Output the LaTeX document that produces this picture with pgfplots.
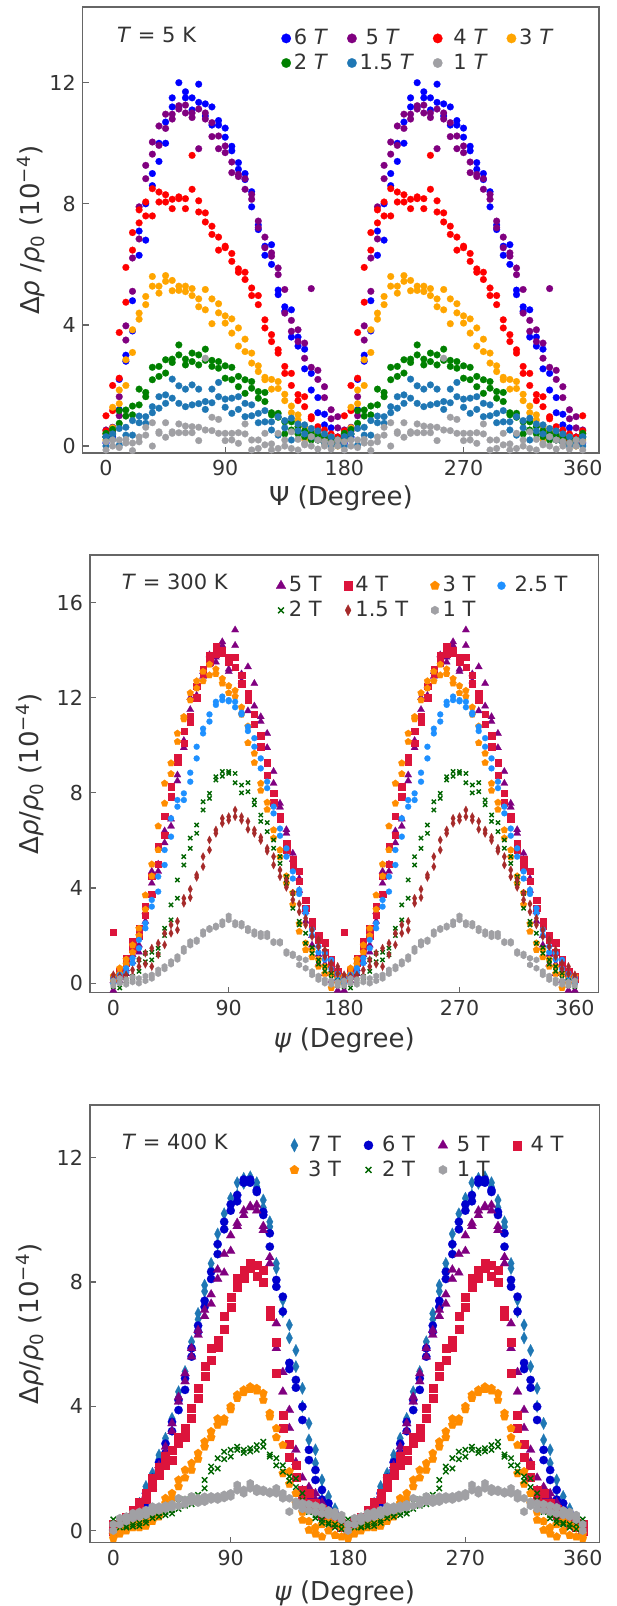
\documentclass[border=0pt]{standalone}
\usepackage{fontspec}
\setmainfont{DejaVu Sans}
\usepackage{pgfplots}
\usepackage{pgfplotstable}
\pgfplotsset{compat=1.18}
\usetikzlibrary{plotmarks}

\pgfdeclareplotmark{hexagon*}{%
  \pgfpathmoveto{\pgfqpointpolar{90}{\pgfplotmarksize}}%
  \pgfpathlineto{\pgfqpointpolar{150}{\pgfplotmarksize}}%
  \pgfpathlineto{\pgfqpointpolar{210}{\pgfplotmarksize}}%
  \pgfpathlineto{\pgfqpointpolar{270}{\pgfplotmarksize}}%
  \pgfpathlineto{\pgfqpointpolar{330}{\pgfplotmarksize}}%
  \pgfpathlineto{\pgfqpointpolar{30}{\pgfplotmarksize}}%
  \pgfpathclose
  \pgfusepathqfillstroke}

\definecolor{cblue}{HTML}{0000FF}
\definecolor{cpurple}{HTML}{800080}
\definecolor{cred}{HTML}{FF0000}
\definecolor{corange}{HTML}{FFA500}
\definecolor{cgreen}{HTML}{008000}
\definecolor{ctab}{HTML}{1F77B4}
\definecolor{cgray}{HTML}{A0A0A4}
\definecolor{ccrimson}{HTML}{DC143C}
\definecolor{cdorange}{HTML}{FF8C00}
\definecolor{cdodger}{HTML}{1E90FF}
\definecolor{cdgreen}{HTML}{006400}
\definecolor{cbrown}{HTML}{A52A2A}
\definecolor{cmblue}{HTML}{0000CD}
\definecolor{txt}{HTML}{333333}

% Panel 1: T = 5 K ; columns: 6T 5T 4T 3T 2T 1.5T 1T
\pgfplotstableread{
p a1 b1 a2 b2 a3 b3 a4 b4 a5 b5 a6 b6 a7 b7
0 0.3 0.1 0.53 0.4 1.0 0.5 0.4 0.2 0.42 0.3 0.31 0.0 0.14 -0.13
5 0.6 0.3 0.62 0.5 2.0 1.17 1.28 0.6 0.55 0.4 0.22 0.4 0.2 0.0
10 1.2 2.2 1.63 1.0 3.75 2.24 1.85 1.4 1.17 0.75 0.58 0.03 0.2 -0.05
15 3.0 2.8 3.97 3.5 5.9 4.75 2.85 2.0 1.19 0.99 0.62 0.36 0.22 0.1
20 4.8 3.8 6.21 5.11 7.05 6.47 3.84 3.09 1.32 1.03 0.84 0.36 0.1 -0.15
25 6.3 7.1 7.9 6.84 7.8 7.37 4.39 4.19 1.88 1.36 0.99 0.77 0.3 0.14
30 6.8 8.0 9.27 8.83 8.06 7.6 4.94 4.67 1.77 1.63 0.97 0.75 0.62 0.36
35 8.6 9.0 10.04 9.64 8.5 7.6 5.6 5.28 2.6 2.19 1.3 1.1 0.77 0.0
40 9.4 10.0 10.57 9.93 8.39 8.06 5.28 5.05 2.63 2.3 1.63 1.25 0.47 0.42
45 10.0 10.7 10.96 10.49 8.3 8.06 5.63 5.44 2.85 2.41 1.69 1.41 0.77 0.29
50 11.2 11.5 10.96 10.8 8.15 7.84 5.47 5.13 2.87 2.76 2.21 1.58 0.47 0.42
55 12.0 11.2 11.24 11.13 8.23 8.17 5.28 5.14 3.34 3.01 1.99 1.41 0.73 0.44
60 11.7 11.5 11.26 11.0 8.17 7.84 5.28 5.1 2.87 2.68 1.88 1.3 0.66 0.44
65 11.5 11.1 11.0 10.85 9.6 8.48 4.97 5.2 3.07 2.79 2.02 1.36 0.64 0.44
70 11.95 11.35 11.13 9.82 8.1 7.73 4.86 4.6 3.01 2.68 1.88 1.4 0.62 0.18
75 11.3 10.9 11.0 10.8 7.7 7.4 5.17 4.5 3.2 2.83 1.47 1.21 2.9 0.53
80 11.2 10.6 10.68 10.22 7.26 6.99 4.86 4.04 2.83 2.63 1.88 1.43 0.95 0.51
85 10.75 10.6 10.24 9.82 6.9 6.47 4.7 4.4 2.79 2.57 2.1 1.63 0.88 0.42
90 10.5 10.2 9.91 9.69 6.55 6.6 4.3 4.06 2.65 2.24 1.55 1.28 0.42 0.18
95 9.75 9.9 9.38 9.03 6.36 6.1 4.2 3.73 2.6 2.19 1.58 1.08 0.42 0.2
100 9.36 9.14 8.97 8.9 5.85 5.74 3.9 3.3 2.3 1.96 1.63 1.21 0.44 0.09
105 9.0 8.8 8.83 8.48 5.74 5.5 3.53 3.12 2.19 1.74 1.41 0.97 0.73 0.4
110 7.9 8.4 8.31 8.15 5.22 4.97 3.07 2.74 2.13 1.91 1.36 1.0 0.2 -0.13
115 7.15 7.3 7.43 7.21 4.97 4.67 2.65 2.46 1.58 1.8 1.08 0.77 0.2 -0.08
120 6.3 6.6 6.9 6.55 4.17 3.9 2.27 2.19 1.77 1.47 1.17 0.8 0.42 0.04
125 6.0 6.65 6.38 6.27 3.68 3.45 2.2 1.88 1.1 1.03 0.8 0.53 0.07 -0.13
130 5.15 5.0 5.88 5.66 3.18 3.07 2.13 1.9 1.08 0.95 0.97 0.36 0.42 -0.08
135 4.45 4.6 5.17 4.39 2.63 2.4 1.71 1.5 0.4 0.8 0.84 0.6 0.2 0.0
140 3.6 4.5 4.15 3.79 2.4 2.0 1.32 1.1 0.8 0.53 0.92 0.2 0.47 -0.08
145 3.3 3.6 3.84 3.45 1.7 1.5 1.03 0.86 0.64 0.4 0.73 0.5 0.22 -0.13
150 3.2 2.55 3.4 2.9 1.63 1.3 0.64 0.22 0.31 0.5 0.7 0.4 0.09 0.04
155 2.4 1.85 5.2 2.6 0.97 0.9 0.5 0.3 0.42 0.2 0.58 0.3 0.31 0.0
160 1.6 1.1 2.5 2.2 0.64 0.5 0.4 0.2 0.35 0.2 0.5 0.2 0.2 -0.1
165 1.05 0.7 1.96 1.6 0.53 0.3 0.3 0.1 0.3 0.15 0.4 0.1 0.15 0.0
170 0.6 0.3 1.2 0.9 0.4 0.2 0.3 0.05 0.25 0.1 0.3 0.0 0.1 -0.1
175 0.3 0.1 0.97 0.6 0.3 0.1 0.2 0.0 0.2 0.05 0.2 0.05 0.2 0.0
180 0.3 0.1 0.53 0.4 1.0 0.5 0.4 0.2 0.42 0.3 0.31 0.0 0.14 -0.13
185 0.6 0.3 0.62 0.5 2.0 1.17 1.28 0.6 0.55 0.4 0.22 0.4 0.2 0.0
190 1.2 2.2 1.63 1.0 3.75 2.24 1.85 1.4 1.17 0.75 0.58 0.03 0.2 -0.05
195 3.0 2.8 3.97 3.5 5.9 4.75 2.85 2.0 1.19 0.99 0.62 0.36 0.22 0.1
200 4.8 3.8 6.21 5.11 7.05 6.47 3.84 3.09 1.32 1.03 0.84 0.36 0.1 -0.15
205 6.3 7.1 7.9 6.84 7.8 7.37 4.39 4.19 1.88 1.36 0.99 0.77 0.3 0.14
210 6.8 8.0 9.27 8.83 8.06 7.6 4.94 4.67 1.77 1.63 0.97 0.75 0.62 0.36
215 8.6 9.0 10.04 9.64 8.5 7.6 5.6 5.28 2.6 2.19 1.3 1.1 0.77 0.0
220 9.4 10.0 10.57 9.93 8.39 8.06 5.28 5.05 2.63 2.3 1.63 1.25 0.47 0.42
225 10.0 10.7 10.96 10.49 8.3 8.06 5.63 5.44 2.85 2.41 1.69 1.41 0.77 0.29
230 11.2 11.5 10.96 10.8 8.15 7.84 5.47 5.13 2.87 2.76 2.21 1.58 0.47 0.42
235 12.0 11.2 11.24 11.13 8.23 8.17 5.28 5.14 3.34 3.01 1.99 1.41 0.73 0.44
240 11.7 11.5 11.26 11.0 8.17 7.84 5.28 5.1 2.87 2.68 1.88 1.3 0.66 0.44
245 11.5 11.1 11.0 10.85 9.6 8.48 4.97 5.2 3.07 2.79 2.02 1.36 0.64 0.44
250 11.95 11.35 11.13 9.82 8.1 7.73 4.86 4.6 3.01 2.68 1.88 1.4 0.62 0.18
255 11.3 10.9 11.0 10.8 7.7 7.4 5.17 4.5 3.2 2.83 1.47 1.21 2.9 0.53
260 11.2 10.6 10.68 10.22 7.26 6.99 4.86 4.04 2.83 2.63 1.88 1.43 0.95 0.51
265 10.75 10.6 10.24 9.82 6.9 6.47 4.7 4.4 2.79 2.57 2.1 1.63 0.88 0.42
270 10.5 10.2 9.91 9.69 6.55 6.6 4.3 4.06 2.65 2.24 1.55 1.28 0.42 0.18
275 9.75 9.9 9.38 9.03 6.36 6.1 4.2 3.73 2.6 2.19 1.58 1.08 0.42 0.2
280 9.36 9.14 8.97 8.9 5.85 5.74 3.9 3.3 2.3 1.96 1.63 1.21 0.44 0.09
285 9.0 8.8 8.83 8.48 5.74 5.5 3.53 3.12 2.19 1.74 1.41 0.97 0.73 0.4
290 7.9 8.4 8.31 8.15 5.22 4.97 3.07 2.74 2.13 1.91 1.36 1.0 0.2 -0.13
295 7.15 7.3 7.43 7.21 4.97 4.67 2.65 2.46 1.58 1.8 1.08 0.77 0.2 -0.08
300 6.3 6.6 6.9 6.55 4.17 3.9 2.27 2.19 1.77 1.47 1.17 0.8 0.42 0.04
305 6.0 6.65 6.38 6.27 3.68 3.45 2.2 1.88 1.1 1.03 0.8 0.53 0.07 -0.13
310 5.15 5.0 5.88 5.66 3.18 3.07 2.13 1.9 1.08 0.95 0.97 0.36 0.42 -0.08
315 4.45 4.6 5.17 4.39 2.63 2.4 1.71 1.5 0.4 0.8 0.84 0.6 0.2 0.0
320 3.6 4.5 4.15 3.79 2.4 2.0 1.32 1.1 0.8 0.53 0.92 0.2 0.47 -0.08
325 3.3 3.6 3.84 3.45 1.7 1.5 1.03 0.86 0.64 0.4 0.73 0.5 0.22 -0.13
330 3.2 2.55 3.4 2.9 1.63 1.3 0.64 0.22 0.31 0.5 0.7 0.4 0.09 0.04
335 2.4 1.85 5.2 2.6 0.97 0.9 0.5 0.3 0.42 0.2 0.58 0.3 0.31 0.0
340 1.6 1.1 2.5 2.2 0.64 0.5 0.4 0.2 0.35 0.2 0.5 0.2 0.2 -0.1
345 1.05 0.7 1.96 1.6 0.53 0.3 0.3 0.1 0.3 0.15 0.4 0.1 0.15 0.0
350 0.6 0.3 1.2 0.9 0.4 0.2 0.3 0.05 0.25 0.1 0.3 0.0 0.1 -0.1
355 0.3 0.1 0.97 0.6 0.3 0.1 0.2 0.0 0.2 0.05 0.2 0.05 0.2 0.0
360 0.3 0.1 0.53 0.4 1.0 0.5 0.4 0.2 0.42 0.3 0.31 0.0 0.14 -0.13
}\tA

% Panel 2: T = 300 K ; columns: 5T 4T 3T 2.5T 2T 1.5T 1T
\pgfplotstableread{
p a1 b1 a2 b2 a3 b3 a4 b4 a5 b5 a6 b6 a7 b7
0 0.1 -0.3 2.14 0.2 0.3 0.1 0.2 0.0 0.0 -0.14 0.35 0.2 0.1 -0.1
5 0.3 0.1 0.5 0.3 0.63 0.4 0.35 0.2 -0.2 0.1 0.3 0.1 0.2 0.0
10 0.6 0.4 1.05 0.84 1.0 0.8 0.63 0.45 0.1 0.28 0.35 0.1 0.15 -0.05
15 1.2 0.9 1.75 1.43 1.6 1.3 1.05 0.84 0.28 0.1 0.56 0.3 0.25 0.05
20 1.6 1.3 2.3 2.0 2.3 2.0 1.82 1.47 0.98 0.5 0.98 0.7 0.2 0.0
25 3.0 2.6 3.25 2.87 3.7 3.1 2.52 2.31 1.26 0.9 1.26 0.8 0.3 0.1
30 4.7 4.2 4.5 3.75 5.0 4.5 3.5 3.22 0.98 1.3 1.47 0.7 0.35 0.2
35 5.0 4.7 5.75 5.0 6.6 5.6 4.48 3.85 1.47 1.2 1.68 1.2 0.56 0.4
40 6.4 5.9 7.03 6.23 8.4 7.56 5.6 4.97 2.31 2.0 2.1 1.61 0.7 0.6
45 6.9 6.6 8.26 7.84 9.25 8.8 6.93 6.16 3.29 2.66 2.45 2.1 0.91 0.8
50 8.75 8.5 9.5 9.3 10.5 10.15 7.7 7.42 4.34 3.57 2.6 2.24 1.12 1.0
55 10.2 9.9 10.6 10.1 11.2 11.1 7.98 7.7 5.32 4.97 3.57 3.36 1.47 1.33
60 12.0 11.5 11.2 11.0 12.2 11.9 8.85 8.47 6.1 5.67 3.95 3.6 1.75 1.6
65 12.5 12.1 12.5 12.0 12.7 12.4 9.94 9.45 6.65 6.3 4.55 4.45 1.82 1.75
70 13.1 12.9 13.2 13.0 13.1 12.7 10.7 10.5 7.63 7.28 5.32 4.9 2.17 2.05
75 13.8 13.4 13.8 13.5 13.4 12.95 11.3 11.0 7.98 7.77 6.02 5.6 2.31 2.25
80 13.7 13.5 14.15 13.85 13.2 13.0 11.83 11.7 8.68 8.54 6.44 6.3 2.41 2.35
85 14.35 14.2 14.0 13.9 12.8 12.6 12.05 11.9 8.9 8.7 6.93 6.72 2.59 2.45
90 13.2 13.1 13.7 13.5 12.5 12.2 11.9 11.85 8.9 8.82 7.0 6.85 2.83 2.66
95 14.85 14.2 13.7 13.3 12.3 12.05 11.83 11.6 8.82 8.43 7.28 7.0 2.55 2.45
100 13.0 12.7 12.95 12.6 11.6 11.3 11.37 11.3 8.33 8.0 7.0 6.85 2.52 2.4
105 13.3 11.45 12.2 11.9 10.8 10.1 10.78 10.6 8.43 8.05 6.8 6.47 2.31 2.2
110 12.6 11.65 11.3 10.9 9.66 9.27 10.3 9.94 7.7 7.5 6.44 6.3 2.17 2.05
115 11.2 11.0 10.4 9.95 8.1 8.4 9.45 9.03 7.07 6.8 6.13 6.0 2.1 1.95
120 10.5 9.9 9.27 8.75 7.6 7.3 8.47 8.2 6.75 6.37 5.67 5.55 2.1 1.95
125 8.9 8.4 8.0 7.6 6.44 6.1 7.42 7.14 6.02 5.67 5.32 4.97 1.75 1.7
130 7.56 7.4 7.0 6.9 5.6 5.3 6.5 6.2 5.32 5.04 4.76 4.48 1.75 1.68
135 6.45 6.3 5.9 5.6 4.5 4.2 5.67 5.32 4.48 4.2 4.34 4.03 1.33 1.25
140 5.46 5.2 5.2 4.9 3.8 3.3 4.7 4.4 3.78 3.15 3.78 3.5 1.23 1.15
145 4.4 3.9 4.7 4.3 2.17 2.5 3.92 3.75 2.6 2.45 3.33 3.0 1.05 0.77
150 3.0 2.6 3.5 3.15 1.68 1.4 3.15 2.95 1.68 2.1 2.73 2.45 0.98 0.63
155 2.0 1.6 2.6 2.4 1.4 1.1 2.24 2.0 1.26 1.5 2.24 1.96 0.49 0.35
160 1.2 0.8 2.0 1.8 1.0 0.7 1.54 1.3 0.98 0.8 1.82 1.54 0.3 0.15
165 0.8 0.4 1.7 1.3 0.7 0.4 1.26 1.0 0.7 0.5 1.4 1.12 0.14 0.0
170 0.5 0.1 1.0 0.8 0.4 -0.2 0.98 0.6 0.42 0.2 0.84 0.6 0.1 -0.05
175 0.2 -0.3 0.5 0.4 0.2 0.0 0.14 0.4 0.1 -0.1 0.7 0.4 0.05 -0.1
180 0.1 -0.3 2.14 0.2 0.3 0.1 0.2 0.0 0.0 -0.14 0.35 0.2 0.1 -0.1
185 0.3 0.1 0.5 0.3 0.63 0.4 0.35 0.2 -0.2 0.1 0.3 0.1 0.2 0.0
190 0.6 0.4 1.05 0.84 1.0 0.8 0.63 0.45 0.1 0.28 0.35 0.1 0.15 -0.05
195 1.2 0.9 1.75 1.43 1.6 1.3 1.05 0.84 0.28 0.1 0.56 0.3 0.25 0.05
200 1.6 1.3 2.3 2.0 2.3 2.0 1.82 1.47 0.98 0.5 0.98 0.7 0.2 0.0
205 3.0 2.6 3.25 2.87 3.7 3.1 2.52 2.31 1.26 0.9 1.26 0.8 0.3 0.1
210 4.7 4.2 4.5 3.75 5.0 4.5 3.5 3.22 0.98 1.3 1.47 0.7 0.35 0.2
215 5.0 4.7 5.75 5.0 6.6 5.6 4.48 3.85 1.47 1.2 1.68 1.2 0.56 0.4
220 6.4 5.9 7.03 6.23 8.4 7.56 5.6 4.97 2.31 2.0 2.1 1.61 0.7 0.6
225 6.9 6.6 8.26 7.84 9.25 8.8 6.93 6.16 3.29 2.66 2.45 2.1 0.91 0.8
230 8.75 8.5 9.5 9.3 10.5 10.15 7.7 7.42 4.34 3.57 2.6 2.24 1.12 1.0
235 10.2 9.9 10.6 10.1 11.2 11.1 7.98 7.7 5.32 4.97 3.57 3.36 1.47 1.33
240 12.0 11.5 11.2 11.0 12.2 11.9 8.85 8.47 6.1 5.67 3.95 3.6 1.75 1.6
245 12.5 12.1 12.5 12.0 12.7 12.4 9.94 9.45 6.65 6.3 4.55 4.45 1.82 1.75
250 13.1 12.9 13.2 13.0 13.1 12.7 10.7 10.5 7.63 7.28 5.32 4.9 2.17 2.05
255 13.8 13.4 13.8 13.5 13.4 12.95 11.3 11.0 7.98 7.77 6.02 5.6 2.31 2.25
260 13.7 13.5 14.15 13.85 13.2 13.0 11.83 11.7 8.68 8.54 6.44 6.3 2.41 2.35
265 14.35 14.2 14.0 13.9 12.8 12.6 12.05 11.9 8.9 8.7 6.93 6.72 2.59 2.45
270 13.2 13.1 13.7 13.5 12.5 12.2 11.9 11.85 8.9 8.82 7.0 6.85 2.83 2.66
275 14.85 14.2 13.7 13.3 12.3 12.05 11.83 11.6 8.82 8.43 7.28 7.0 2.55 2.45
280 13.0 12.7 12.95 12.6 11.6 11.3 11.37 11.3 8.33 8.0 7.0 6.85 2.52 2.4
285 13.3 11.45 12.2 11.9 10.8 10.1 10.78 10.6 8.43 8.05 6.8 6.47 2.31 2.2
290 12.6 11.65 11.3 10.9 9.66 9.27 10.3 9.94 7.7 7.5 6.44 6.3 2.17 2.05
295 11.2 11.0 10.4 9.95 8.1 8.4 9.45 9.03 7.07 6.8 6.13 6.0 2.1 1.95
300 10.5 9.9 9.27 8.75 7.6 7.3 8.47 8.2 6.75 6.37 5.67 5.55 2.1 1.95
305 8.9 8.4 8.0 7.6 6.44 6.1 7.42 7.14 6.02 5.67 5.32 4.97 1.75 1.7
310 7.56 7.4 7.0 6.9 5.6 5.3 6.5 6.2 5.32 5.04 4.76 4.48 1.75 1.68
315 6.45 6.3 5.9 5.6 4.5 4.2 5.67 5.32 4.48 4.2 4.34 4.03 1.33 1.25
320 5.46 5.2 5.2 4.9 3.8 3.3 4.7 4.4 3.78 3.15 3.78 3.5 1.23 1.15
325 4.4 3.9 4.7 4.3 2.17 2.5 3.92 3.75 2.6 2.45 3.33 3.0 1.05 0.77
330 3.0 2.6 3.5 3.15 1.68 1.4 3.15 2.95 1.68 2.1 2.73 2.45 0.98 0.63
335 2.0 1.6 2.6 2.4 1.4 1.1 2.24 2.0 1.26 1.5 2.24 1.96 0.49 0.35
340 1.2 0.8 2.0 1.8 1.0 0.7 1.54 1.3 0.98 0.8 1.82 1.54 0.3 0.15
345 0.8 0.4 1.7 1.3 0.7 0.4 1.26 1.0 0.7 0.5 1.4 1.12 0.14 0.0
350 0.5 0.1 1.0 0.8 0.4 -0.2 0.98 0.6 0.42 0.2 0.84 0.6 0.1 -0.05
355 0.2 -0.3 0.5 0.4 0.2 0.0 0.14 0.4 0.1 -0.1 0.7 0.4 0.05 -0.1
360 0.1 -0.3 0.3 0.2 0.3 0.1 0.2 0.0 0.0 -0.14 0.35 0.2 0.1 -0.1
}\tB

% Panel 3: T = 400 K ; columns: 7T 6T 5T 4T 3T 2T 1T
\pgfplotstableread{
p a1 b1 a2 b2 a3 b3 a4 b4 a5 b5 a6 b6 a7 b7
0 0.1 0.02 0.05 -0.1 0.1 0.0 0.2 0.0 -0.25 -0.1 0.36 0.2 0.2 0.0
5 0.2 0.13 0.1 0.2 0.15 0.05 0.3 0.15 -0.1 0.0 0.2 0.1 0.4 0.2
10 0.35 0.24 0.2 0.3 0.3 0.2 0.45 0.3 0.0 0.1 0.15 0.1 0.45 0.3
15 0.5 0.45 0.45 0.35 0.5 0.4 0.66 0.5 0.1 0.2 0.13 0.2 0.56 0.4
20 0.88 0.8 0.75 0.6 0.8 0.7 0.93 0.8 0.24 0.1 0.24 0.15 0.6 0.45
25 1.42 1.3 1.2 0.88 1.15 1.0 1.2 1.0 0.3 0.15 0.34 0.25 0.66 0.5
30 1.84 1.58 1.7 1.42 1.55 1.4 1.68 1.4 0.45 0.3 0.5 0.4 0.77 0.6
35 2.43 2.3 2.2 1.95 2.1 1.9 2.06 1.8 0.6 0.45 0.56 0.45 0.77 0.65
40 2.97 2.8 2.8 2.5 2.7 2.5 2.4 2.1 1.04 0.88 0.6 0.5 0.8 0.7
45 3.61 3.5 3.5 3.2 3.45 3.2 2.6 2.27 1.2 1.0 0.66 0.55 0.85 0.75
50 4.47 4.3 4.2 3.88 4.3 4.15 3.02 2.81 1.63 1.42 0.9 0.7 1.04 0.8
55 5.12 5.0 4.9 4.53 5.06 4.8 3.29 3.02 1.95 1.7 1.0 0.8 0.99 0.85
60 6.08 5.87 5.87 5.6 5.87 5.6 3.94 3.61 2.17 1.95 1.1 0.85 1.1 0.93
65 6.99 6.8 6.6 6.4 6.45 6.3 4.58 4.27 2.49 2.3 1.15 1.0 1.04 0.9
70 7.9 7.7 7.4 7.2 7.1 6.9 5.28 4.96 2.86 2.7 1.63 1.36 1.09 0.93
75 8.6 8.4 8.33 8.1 7.6 7.3 5.87 5.49 3.19 3.0 2.06 1.9 1.1 1.0
80 9.55 9.22 9.22 8.9 8.4 8.1 6.13 5.9 3.6 3.4 2.33 2.0 1.1 1.0
85 10.2 9.94 9.94 9.7 8.9 8.3 6.89 6.5 3.6 3.5 2.54 2.3 1.15 1.05
90 10.7 10.5 10.5 10.3 9.5 9.0 7.53 7.2 4.0 3.9 2.38 2.6 1.2 1.1
95 11.2 10.8 10.8 10.6 9.9 9.8 8.12 7.85 4.37 4.26 2.7 2.6 1.47 1.3
100 11.34 11.18 11.3 11.2 10.3 10.15 8.39 8.12 4.53 4.45 2.6 2.5 1.31 1.2
105 11.39 11.3 11.3 11.2 10.45 10.4 8.6 8.44 4.63 4.55 2.65 2.55 1.52 1.36
110 11.2 11.07 10.96 10.9 10.48 10.3 8.55 8.2 4.58 4.5 2.6 2.75 1.36 1.25
115 10.64 10.4 10.26 10.16 9.8 9.67 8.4 8.0 4.42 4.2 2.86 2.7 1.31 1.25
120 9.94 9.78 9.57 9.14 8.8 8.6 7.1 6.9 3.78 3.67 2.38 2.45 1.25 1.2
125 8.44 8.6 7.85 8.07 6.67 5.87 6.08 5.06 3.29 3.0 2.33 2.1 1.36 1.2
130 7.42 7.05 7.53 7.05 5.1 4.47 3.72 3.3 2.75 1.84 2.1 1.9 1.2 1.04
135 6.62 6.2 5.4 5.2 3.88 3.3 2.8 2.36 1.9 1.5 1.74 1.6 1.04 0.61
140 5.28 5.8 4.85 4.6 2.6 2.2 2.1 1.73 0.88 1.2 1.68 1.4 0.93 0.8
145 4.0 4.58 3.56 3.99 1.7 1.3 1.31 1.1 0.34 0.6 1.2 0.98 0.88 0.7
150 3.45 2.92 2.6 2.27 1.4 1.1 1.2 0.9 0.02 0.3 0.77 0.6 0.85 0.65
155 2.17 2.6 1.95 1.63 1.2 1.0 0.9 0.7 0.1 -0.1 0.5 0.4 0.8 0.6
160 1.63 1.31 1.31 1.0 0.9 0.8 0.7 0.5 0.2 -0.2 0.35 0.25 0.75 0.55
165 0.88 1.1 0.88 0.7 0.6 0.5 0.5 0.35 0.3 0.0 0.25 0.2 0.65 0.5
170 0.56 0.7 0.56 0.45 0.4 0.3 0.35 0.2 0.2 -0.15 0.2 0.1 0.6 0.45
175 0.4 0.3 0.3 0.2 0.3 0.2 0.25 0.1 0.1 -0.2 0.2 0.05 0.5 0.35
180 0.1 0.02 0.05 -0.1 0.1 0.0 0.2 0.0 -0.25 -0.1 0.36 0.2 0.2 0.0
185 0.2 0.13 0.1 0.2 0.15 0.05 0.3 0.15 -0.1 0.0 0.2 0.1 0.4 0.2
190 0.35 0.24 0.2 0.3 0.3 0.2 0.45 0.3 0.0 0.1 0.15 0.1 0.45 0.3
195 0.5 0.45 0.45 0.35 0.5 0.4 0.66 0.5 0.1 0.2 0.13 0.2 0.56 0.4
200 0.88 0.8 0.75 0.6 0.8 0.7 0.93 0.8 0.24 0.1 0.24 0.15 0.6 0.45
205 1.42 1.3 1.2 0.88 1.15 1.0 1.2 1.0 0.3 0.15 0.34 0.25 0.66 0.5
210 1.84 1.58 1.7 1.42 1.55 1.4 1.68 1.4 0.45 0.3 0.5 0.4 0.77 0.6
215 2.43 2.3 2.2 1.95 2.1 1.9 2.06 1.8 0.6 0.45 0.56 0.45 0.77 0.65
220 2.97 2.8 2.8 2.5 2.7 2.5 2.4 2.1 1.04 0.88 0.6 0.5 0.8 0.7
225 3.61 3.5 3.5 3.2 3.45 3.2 2.6 2.27 1.2 1.0 0.66 0.55 0.85 0.75
230 4.47 4.3 4.2 3.88 4.3 4.15 3.02 2.81 1.63 1.42 0.9 0.7 1.04 0.8
235 5.12 5.0 4.9 4.53 5.06 4.8 3.29 3.02 1.95 1.7 1.0 0.8 0.99 0.85
240 6.08 5.87 5.87 5.6 5.87 5.6 3.94 3.61 2.17 1.95 1.1 0.85 1.1 0.93
245 6.99 6.8 6.6 6.4 6.45 6.3 4.58 4.27 2.49 2.3 1.15 1.0 1.04 0.9
250 7.9 7.7 7.4 7.2 7.1 6.9 5.28 4.96 2.86 2.7 1.63 1.36 1.09 0.93
255 8.6 8.4 8.33 8.1 7.6 7.3 5.87 5.49 3.19 3.0 2.06 1.9 1.1 1.0
260 9.55 9.22 9.22 8.9 8.4 8.1 6.13 5.9 3.6 3.4 2.33 2.0 1.1 1.0
265 10.2 9.94 9.94 9.7 8.9 8.3 6.89 6.5 3.6 3.5 2.54 2.3 1.15 1.05
270 10.7 10.5 10.5 10.3 9.5 9.0 7.53 7.2 4.0 3.9 2.38 2.6 1.2 1.1
275 11.2 10.8 10.8 10.6 9.9 9.8 8.12 7.85 4.37 4.26 2.7 2.6 1.47 1.3
280 11.34 11.18 11.3 11.2 10.3 10.15 8.39 8.12 4.53 4.45 2.6 2.5 1.31 1.2
285 11.39 11.3 11.3 11.2 10.45 10.4 8.6 8.44 4.63 4.55 2.65 2.55 1.52 1.36
290 11.2 11.07 10.96 10.9 10.48 10.3 8.55 8.2 4.58 4.5 2.6 2.75 1.36 1.25
295 10.64 10.4 10.26 10.16 9.8 9.67 8.4 8.0 4.42 4.2 2.86 2.7 1.31 1.25
300 9.94 9.78 9.57 9.14 8.8 8.6 7.1 6.9 3.78 3.67 2.38 2.45 1.25 1.2
305 8.44 8.6 7.85 8.07 6.67 5.87 6.08 5.06 3.29 3.0 2.33 2.1 1.36 1.2
310 7.42 7.05 7.53 7.05 5.1 4.47 3.72 3.3 2.75 1.84 2.1 1.9 1.2 1.04
315 6.62 6.2 5.4 5.2 3.88 3.3 2.8 2.36 1.9 1.5 1.74 1.6 1.04 0.61
320 5.28 5.8 4.85 4.6 2.6 2.2 2.1 1.73 0.88 1.2 1.68 1.4 0.93 0.8
325 4.0 4.58 3.56 3.99 1.7 1.3 1.31 1.1 0.34 0.6 1.2 0.98 0.88 0.7
330 3.45 2.92 2.6 2.27 1.4 1.1 1.2 0.9 0.02 0.3 0.77 0.6 0.85 0.65
335 2.17 2.6 1.95 1.63 1.2 1.0 0.9 0.7 0.1 -0.1 0.5 0.4 0.8 0.6
340 1.63 1.31 1.31 1.0 0.9 0.8 0.7 0.5 0.2 -0.2 0.35 0.25 0.75 0.55
345 0.88 1.1 0.88 0.7 0.6 0.5 0.5 0.35 0.3 0.0 0.25 0.2 0.65 0.5
350 0.56 0.7 0.56 0.45 0.4 0.3 0.35 0.2 0.2 -0.15 0.2 0.1 0.6 0.45
355 0.4 0.3 0.3 0.2 0.3 0.2 0.25 0.1 0.1 -0.2 0.2 0.05 0.5 0.35
360 0.1 0.02 0.05 -0.1 0.1 0.0 0.2 0.0 -0.25 -0.1 0.36 0.2 0.2 0.0
}\tC

\newcommand{\ser}[4]{%
  \addplot[#3] table[x=p,y=a#2]{#1};\addlegendentry{#4}
  \addplot[#3,forget plot] table[x=p,y=b#2]{#1};}

\pgfplotsset{
  limg/.style={legend image code/.code={\draw[mark repeat=2,mark phase=2,##1,/tikz/every mark/.append style={scale=#1}] plot coordinates {(0pt,0pt)(4pt,0pt)(8pt,0pt)};}},
  panel/.style={
    scale only axis,
    anchor=north west,
    axis line style={draw=black!60, line width=0.6pt},
    tick align=inside,
    xtick pos=left, ytick pos=left,
    major tick length=3pt,
    every tick/.style={black!60, line width=0.6pt},
    tick label style={font=\fontsize{10.3}{12}\selectfont, text=txt},
    label style={font=\fontsize{13}{15}\selectfont, text=txt},
    /pgf/number format/assume math mode=true,
    xtick={0,90,180,270,360},
    legend columns=4,
    legend cell align=left,
    legend style={draw=none, fill=none, font=\fontsize{10.5}{12}\selectfont, text=txt,
      nodes={inner sep=1.5pt}},
    every axis plot/.append style={only marks},
  }
}

\begin{document}
\begin{tikzpicture}
\path[use as bounding box] (0pt,0pt) rectangle (308pt,-803pt);

% ---------------- Panel 1 ----------------
\begin{axis}[panel, limg=1.4,
  at={(41.35pt,-3.5pt)}, width=258.15pt, height=223pt,
  xmin=-17.6, xmax=372.3, ymin=-0.23, ymax=14.5,
  ytick={0,4,8,12},
  xlabel={Ψ (Degree)},
  ylabel={Δ\textit{ρ} /\textit{ρ}\textsubscript{0} (10\textsuperscript{−4})},
  xlabel style={at={(axis description cs:0.5,-0.117)}, anchor=base},
  ylabel style={at={(axis description cs:-0.100,0.5)}, anchor=center},
  legend style={at={(axis description cs:0.930,0.967)}, anchor=north east,
    /tikz/every even column/.append style={column sep=8pt}},
]
\ser{\tA}{1}{mark=*, mark size=1.7pt, color=cblue, mark options={line width=0.1pt}}{6 \textit{T}}
\ser{\tA}{2}{mark=*, mark size=1.7pt, color=cpurple, mark options={line width=0.1pt}}{\hspace{3pt}5 \textit{T}}
\ser{\tA}{3}{mark=*, mark size=1.7pt, color=cred, mark options={line width=0.1pt}}{\hspace{4pt}4 \textit{T}}
\ser{\tA}{4}{mark=*, mark size=1.7pt, color=corange, mark options={line width=0.1pt}}{3 \textit{T}}
\ser{\tA}{5}{mark=*, mark size=1.7pt, color=cgreen, mark options={line width=0.1pt}}{2 \textit{T}}
\ser{\tA}{6}{mark=*, mark size=1.7pt, color=ctab, mark options={line width=0.1pt}}{1.5 \textit{T}}
\ser{\tA}{7}{mark=*, mark size=1.7pt, color=cgray, mark options={line width=0.1pt}}{\hspace{4pt}1 \textit{T}}
\node[anchor=west, font=\fontsize{10.5}{12}\selectfont, text=txt] at (axis description cs:0.053,0.937) {\textit{T} = 5 K};
\end{axis}

% ---------------- Panel 2 ----------------
\begin{axis}[panel, limg=1.35,
  at={(45pt,-277.5pt)}, width=254.35pt, height=218.85pt,
  xmin=-18.2, xmax=378.6, ymin=-0.4, ymax=18.0,
  ytick={0,4,8,12,16},
  xlabel={\textit{ψ} (Degree)},
  ylabel={Δ\textit{ρ}/\textit{ρ}\textsubscript{0} (10\textsuperscript{−4})},
  xlabel style={at={(axis description cs:0.5,-0.126)}, anchor=base},
  ylabel style={at={(axis description cs:-0.118,0.5)}, anchor=center},
  legend style={at={(axis description cs:0.957,0.968)}, anchor=north east,
    /tikz/every even column/.append style={column sep=9.5pt}},
]
\ser{\tB}{1}{mark=triangle*, mark size=2.1pt, color=cpurple, mark options={line width=0.1pt}}{5 T}
\ser{\tB}{2}{mark=square*, mark size=1.6pt, color=ccrimson, mark options={line width=0.1pt}}{4 T}
\ser{\tB}{3}{mark=pentagon*, mark size=1.8pt, color=cdorange, mark options={line width=0.1pt}}{3 T}
\ser{\tB}{4}{mark=*, mark size=1.5pt, color=cdodger, mark options={line width=0.1pt}}{\hspace{3pt}2.5 T}
\ser{\tB}{5}{mark=x, mark size=1.5pt, color=cdgreen, mark options={line width=0.7pt}}{2 T}
\ser{\tB}{6}{mark=diamond*, mark size=2.1pt, color=cbrown, mark options={line width=0.1pt, xscale=0.7}}{1.5 T}
\ser{\tB}{7}{mark=hexagon*, mark size=1.6pt, color=cgray, mark options={line width=0.1pt}}{1 T}
\node[anchor=west, font=\fontsize{10.5}{12}\selectfont, text=txt] at (axis description cs:0.049,0.938) {\textit{T} = 300 K};
\end{axis}

% ---------------- Panel 3 ----------------
\begin{axis}[panel, limg=1.1,
  at={(45pt,-552.5pt)}, width=254.65pt, height=218.85pt,
  xmin=-17.9, xmax=372.7, ymin=-0.39, ymax=13.7,
  ytick={0,4,8,12},
  xlabel={\textit{ψ} (Degree)},
  ylabel={Δ\textit{ρ}/\textit{ρ}\textsubscript{0} (10\textsuperscript{−4})},
  xlabel style={at={(axis description cs:0.5,-0.131)}, anchor=base},
  ylabel style={at={(axis description cs:-0.118,0.5)}, anchor=center},
  legend style={at={(axis description cs:0.948,0.946)}, anchor=north east,
    /tikz/every even column/.append style={column sep=10pt}},
]
\ser{\tC}{1}{mark=diamond*, mark size=3.1pt, color=ctab, mark options={line width=0.1pt, xscale=0.7}}{\hspace{3pt}7 T}
\ser{\tC}{2}{mark=*, mark size=2.1pt, color=cmblue, mark options={line width=0.1pt}}{\hspace{3pt}6 T}
\ser{\tC}{3}{mark=triangle*, mark size=2.6pt, color=cpurple, mark options={line width=0.1pt}}{\hspace{3pt}5 T}
\ser{\tC}{4}{mark=square*, mark size=2.0pt, color=ccrimson, mark options={line width=0.1pt}}{\hspace{3pt}4 T}
\ser{\tC}{5}{mark=pentagon*, mark size=2.2pt, color=cdorange, mark options={line width=0.1pt}}{\hspace{3pt}3 T}
\ser{\tC}{6}{mark=x, mark size=1.9pt, color=cdgreen, mark options={line width=0.7pt}}{\hspace{3pt}2 T}
\ser{\tC}{7}{mark=hexagon*, mark size=2.1pt, color=cgray, mark options={line width=0.1pt}}{\hspace{3pt}1 T}
\node[anchor=west, font=\fontsize{10.5}{12}\selectfont, text=txt] at (axis description cs:0.049,0.915) {\textit{T} = 400 K};
\end{axis}
\end{tikzpicture}
\end{document}
